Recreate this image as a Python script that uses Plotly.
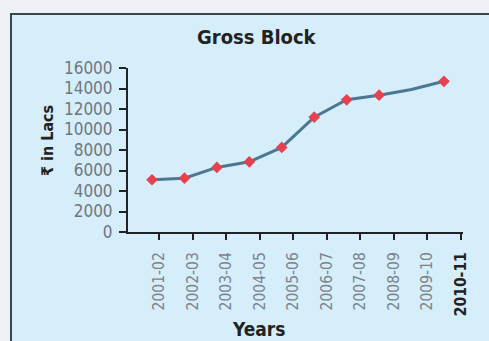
import plotly.graph_objects as go

# Gross block by financial year (Rs. in lacs)
years = ["2001-02", "2002-03", "2003-04", "2004-05", "2005-06",
         "2006-07", "2007-08", "2008-09", "2009-10", "2010-11"]
gross_block = [5100, 5250, 6300, 6850, 8250, 11200, 12900, 13350, 13900, 14700]
marker_shown = [True, True, True, True, True, True, True, True, False, True]
y_ticks = [0, 2000, 4000, 6000, 8000, 10000, 12000, 14000, 16000]

W, H = 489, 341
L, R, T, B = 128, 26, 68, 109
pw, ph = W - L - R, H - T - B

def px_x(v):
    return (v - L) / pw

def px_y(v):
    return (H - B - v) / ph

FONT = "DejaVu Sans Condensed, Liberation Sans Narrow, sans-serif"
x_pos = list(range(len(years)))

tick_text = [y if i < len(years) - 1 else
             "<b><span style='color:#222'>%s</span></b>" % y
             for i, y in enumerate(years)]

fig = go.Figure()
# empty trace so the labelled x/y subplot is created
fig.add_trace(go.Scatter(x=[None], y=[None], mode="lines",
                         hoverinfo="skip", showlegend=False))
# the series sits on its own overlaying x axis, slightly tighter than the labelled one
fig.add_trace(go.Scatter(
    x=x_pos, y=gross_block, mode="lines", xaxis="x2",
    line=dict(color="#4b7890", width=3),
    hoverinfo="skip", showlegend=False,
))
fig.add_trace(go.Scatter(
    x=[x for x, s in zip(x_pos, marker_shown) if s],
    y=[v for v, s in zip(gross_block, marker_shown) if s],
    mode="markers", xaxis="x2",
    marker=dict(color="#e8404e", size=9, symbol="diamond"),
    showlegend=False,
))

fig.update_layout(
    width=W, height=H,
    margin=dict(l=L, r=R, t=T, b=B, pad=0),
    paper_bgcolor="#eef1f5",
    plot_bgcolor="rgba(0,0,0,0)",
    font=dict(family=FONT, color="#6e7780", size=13),
    shapes=[dict(
        type="rect", xref="paper", yref="paper", layer="below",
        x0=px_x(11), x1=px_x(W + 20), y0=px_y(H + 20), y1=px_y(14),
        fillcolor="#d6eefa", line=dict(color="#3c444c", width=2),
    )],
    annotations=[
        dict(text="<b>Gross Block</b>", xref="paper", yref="paper",
             x=px_x(257), y=px_y(37), xanchor="center", yanchor="middle",
             showarrow=False,
             font=dict(size=20, color="#222222", family=FONT)),
        dict(text="<b>₹ in Lacs</b>", xref="paper", yref="paper",
             x=px_x(47), y=px_y(141), xanchor="center", yanchor="middle",
             showarrow=False, textangle=-90,
             font=dict(size=16, color="#222222", family=FONT)),
        dict(text="<b>Years</b>", xref="paper", yref="paper",
             x=px_x(258), y=px_y(329), xanchor="center", yanchor="middle",
             showarrow=False,
             font=dict(size=19, color="#222222", family=FONT)),
    ],
    xaxis=dict(
        range=[-0.924, 9.06],
        tickvals=x_pos, ticktext=tick_text, tickangle=-90,
        showline=True, linecolor="#1f2327", linewidth=2,
        ticks="outside", ticklen=6, tickwidth=1.5, tickcolor="#1f2327",
        ticklabelstandoff=6,
        showgrid=False, zeroline=False,
        tickfont=dict(size=15.5, color="#7a838c", family=FONT),
    ),
    xaxis2=dict(
        overlaying="x", anchor="y", range=[-0.74, 9.587], visible=False,
        showgrid=False, zeroline=False,
    ),
    yaxis=dict(
        range=[0, 16000],
        tickvals=y_ticks, ticktext=[str(v) for v in y_ticks],
        showline=True, linecolor="#1f2327", linewidth=2,
        ticks="outside", ticklen=7, tickwidth=1.5, tickcolor="#1f2327",
        ticklabelstandoff=3,
        showgrid=False, zeroline=False,
        tickfont=dict(size=17, color="#6e7780", family=FONT),
    ),
)

fig.write_html("out.html")
